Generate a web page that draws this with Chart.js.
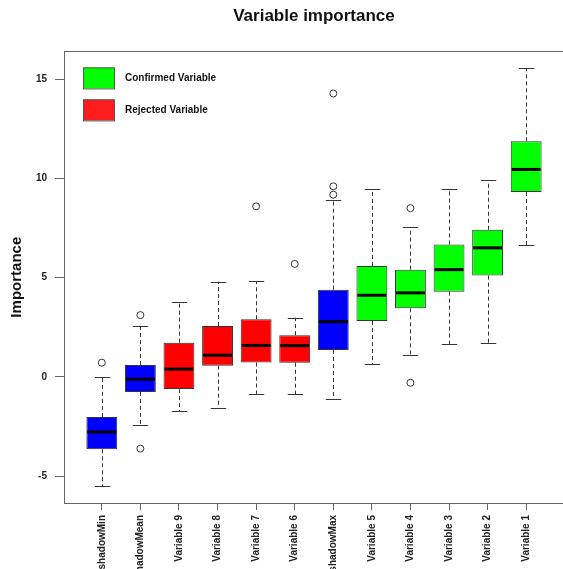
<!DOCTYPE html>
<html>
<head>
<meta charset="utf-8">
<script src="https://cdn.jsdelivr.net/npm/chart.js@4.4.1/dist/chart.umd.min.js"></script>
<style>
  html, body { margin: 0; padding: 0; background: #fff; overflow: hidden; }
  canvas { display: block; }
</style>
</head>
<body>
<canvas id="importance-boxplot" width="569" height="569"></canvas>
<script>
// variable importance boxplot (Boruta style)

const categories = ["shadowMin", "shadowMean", "Variable 9", "Variable 8", "Variable 7", "Variable 6",
                    "shadowMax", "Variable 5", "Variable 4", "Variable 3", "Variable 2", "Variable 1"];
const status = ["shadow", "shadow", "rejected", "rejected", "rejected", "rejected",
                "shadow", "confirmed", "confirmed", "confirmed", "confirmed", "confirmed"];

const whiskerLow  = [-5.50, -2.41, -1.73, -1.55, -0.86, -0.88, -1.14, 0.64, 1.09, 1.65, 1.70, 6.62];
const q1          = [-3.65, -0.76, -0.62,  0.56,  0.72,  0.71,  1.35, 2.81, 3.45, 4.29, 5.10, 9.31];
const median      = [-2.78, -0.12,  0.39,  1.09,  1.58,  1.57,  2.78, 4.11, 4.23, 5.40, 6.50, 10.45];
const q3          = [-2.02,  0.59,  1.72,  2.56,  2.90,  2.10,  4.39, 5.59, 5.40, 6.67, 7.41, 11.87];
const whiskerHigh = [ 0.00,  2.58,  3.75,  4.80,  4.83,  2.98,  8.89, 9.46, 7.54, 9.46, 9.92, 15.57];
const outliers    = [[0.71], [3.11, -3.62], [], [], [8.59], [5.69], [14.28, 9.60, 9.18], [], [8.50, -0.30], [], [], []];

const yTicks = [-5, 0, 5, 10, 15];

const legendLabels = ["Confirmed Variable", "Rejected Variable"];
const legendColors = ["#00ff00", "#ff1c1c"];

const statusColors = { shadow: "#0000ff", rejected: "#ff0000", confirmed: "#00ff00" };
const FONT = "'Liberation Sans', Arial, Helvetica, sans-serif";
const INK = "#333";

const boxData = categories.map((c, i) => ({ x: i + 1, y: [q1[i], q3[i]] }));
const outlierData = [];
outliers.forEach((list, i) => list.forEach(v => outlierData.push({ x: i + 1, y: v })));

// whiskers, caps, medians, frame and legend drawn from the bar elements / scales
const boxExtras = {
  id: "boxExtras",
  beforeDatasetsDraw(chart) {
    const { ctx, chartArea, scales: { y } } = chart;
    const bars = chart.getDatasetMeta(0).data;
    ctx.save();
    ctx.strokeStyle = "#666";
    ctx.lineWidth = 1;
    ctx.strokeRect(Math.round(chartArea.left) + 0.5, Math.round(chartArea.top) + 0.5,
                   Math.round(chartArea.width), Math.round(chartArea.height));
    ctx.strokeStyle = INK;
    bars.forEach((bar, i) => {
      const x = Math.round(bar.x) + 0.5;
      const half = bar.width / 4;
      const lo = y.getPixelForValue(whiskerLow[i]);
      const hi = y.getPixelForValue(whiskerHigh[i]);
      ctx.setLineDash([4, 3]);
      ctx.beginPath();
      ctx.moveTo(x, y.getPixelForValue(q3[i]));
      ctx.lineTo(x, hi);
      ctx.moveTo(x, y.getPixelForValue(q1[i]));
      ctx.lineTo(x, lo);
      ctx.stroke();
      ctx.setLineDash([]);
      ctx.beginPath();
      ctx.moveTo(x - half, Math.round(hi) + 0.5);
      ctx.lineTo(x + half, Math.round(hi) + 0.5);
      ctx.moveTo(x - half, Math.round(lo) + 0.5);
      ctx.lineTo(x + half, Math.round(lo) + 0.5);
      ctx.stroke();
    });
    ctx.restore();
  },
  afterDatasetsDraw(chart) {
    const { ctx, chartArea, scales: { y } } = chart;
    const bars = chart.getDatasetMeta(0).data;
    ctx.save();
    ctx.strokeStyle = "#000";
    ctx.lineWidth = 3;
    bars.forEach((bar, i) => {
      const m = y.getPixelForValue(median[i]);
      ctx.beginPath();
      ctx.moveTo(bar.x - bar.width / 2 + 1, m);
      ctx.lineTo(bar.x + bar.width / 2 - 1, m);
      ctx.stroke();
    });

    // legend
    ctx.lineWidth = 1;
    ctx.font = "bold 10px " + FONT;
    ctx.textBaseline = "middle";
    ctx.textAlign = "left";
    legendLabels.forEach((label, i) => {
      const bx = chartArea.left + 19;
      const by = chartArea.top + 16 + i * 32;
      ctx.fillStyle = legendColors[i];
      ctx.fillRect(bx, by, 31, 21);
      ctx.strokeStyle = "#555";
      ctx.strokeRect(bx + 0.5, by + 0.5, 31, 21);
      ctx.fillStyle = "#111";
      ctx.fillText(label, bx + 42, by + 11);
    });
    ctx.restore();
  }
};

new Chart(document.getElementById("importance-boxplot"), {
  type: "bar",
  data: {
    datasets: [{
      label: "Importance",
      data: boxData,
      backgroundColor: status.map(s => statusColors[s]),
      borderColor: INK,
      borderWidth: 1,
      borderSkipped: false,
      categoryPercentage: 1,
      barPercentage: 0.8
    }, {
      type: "scatter",
      label: "Outliers",
      data: outlierData,
      pointStyle: "circle",
      pointRadius: 3.5,
      backgroundColor: "rgba(0,0,0,0)",
      borderColor: INK,
      borderWidth: 1
    }]
  },
  options: {
    responsive: false,
    animation: false,
    layout: { padding: 0 },
    plugins: {
      legend: { display: false },
      tooltip: { enabled: false },
      title: {
        display: true,
        text: "Variable importance",
        fullSize: false,
        color: "#111",
        font: { family: FONT, size: 17, weight: "bold" },
        padding: { top: 6, bottom: 25 }
      }
    },
    scales: {
      x: {
        type: "linear",
        min: 0.02,
        max: 12.98,
        offset: false,
        afterBuildTicks: s => { s.ticks = categories.map((c, i) => ({ value: i + 1 })); },
        afterFit: s => { s.height = 66; },
        grid: { drawOnChartArea: false, offset: false, tickLength: 7, color: "#666" },
        border: { display: false },
        ticks: {
          autoSkip: false,
          maxRotation: 90,
          minRotation: 90,
          padding: 5,
          color: "#222",
          font: { family: FONT, size: 10, weight: "bold" },
          callback: v => categories[v - 1]
        }
      },
      y: {
        min: -6.36,
        max: 16.4,
        afterBuildTicks: s => { s.ticks = yTicks.map(v => ({ value: v })); },
        afterFit: s => { s.width = 64; },
        grid: { drawOnChartArea: false, tickLength: 9, color: "#666" },
        border: { display: false },
        ticks: {
          padding: 8,
          color: "#222",
          font: { family: FONT, size: 10, weight: "bold" }
        },
        title: {
          display: true,
          text: "Importance",
          color: "#111",
          font: { family: FONT, size: 15, weight: "bold" },
          padding: { top: 8, bottom: 0 }
        }
      }
    }
  },
  plugins: [boxExtras]
});
</script>
</body>
</html>
